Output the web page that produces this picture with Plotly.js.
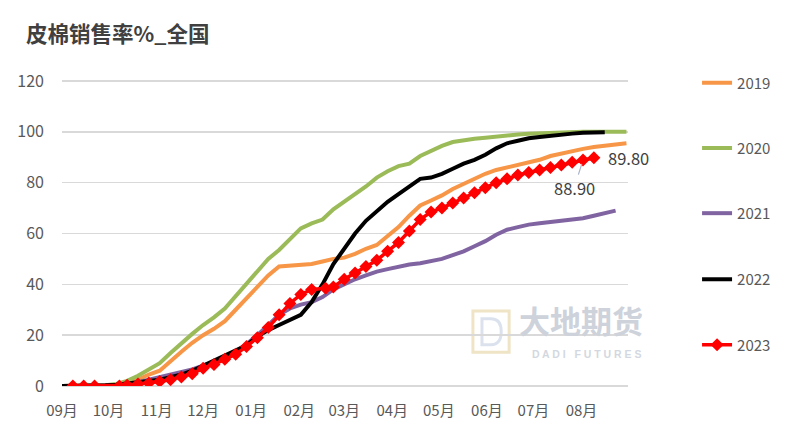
<!DOCTYPE html>
<html>
<head>
<meta charset="utf-8">
<script src="https://cdn.plot.ly/plotly-3.0.1.min.js"></script>
<style>
html,body{margin:0;padding:0;background:#fff;}
#chart{width:789px;height:424px;}
</style>
</head>
<body>
<div id="chart"></div>
<script>
// Weekly dates (season Sep -> Aug) used by the 2019-2022 lines
const weeks = [
 "2023-09-01","2023-09-08","2023-09-15","2023-09-22","2023-09-29","2023-10-06","2023-10-13","2023-10-20","2023-10-27",
 "2023-11-03","2023-11-10","2023-11-17","2023-11-24","2023-12-01","2023-12-08","2023-12-15","2023-12-22","2023-12-29",
 "2024-01-05","2024-01-12","2024-01-19","2024-01-26","2024-02-02","2024-02-09","2024-02-16","2024-02-23","2024-03-01",
 "2024-03-08","2024-03-15","2024-03-22","2024-03-29","2024-04-05","2024-04-12","2024-04-19","2024-04-26","2024-05-03",
 "2024-05-10","2024-05-17","2024-05-24","2024-05-31","2024-06-07","2024-06-14","2024-06-21","2024-06-28","2024-07-05",
 "2024-07-12","2024-07-19","2024-07-26","2024-08-02","2024-08-09","2024-08-16","2024-08-23","2024-08-30"
];
// Report dates of the 2023 season
const weeks2023 = [
 "2023-09-08","2023-09-15","2023-09-22","2023-10-08","2023-10-13","2023-10-20","2023-10-27","2023-11-03","2023-11-10",
 "2023-11-17","2023-11-24","2023-12-01","2023-12-08","2023-12-15","2023-12-22","2023-12-29","2024-01-05","2024-01-12",
 "2024-01-19","2024-01-26","2024-02-02","2024-02-09","2024-02-18","2024-02-23","2024-03-01","2024-03-08","2024-03-15",
 "2024-03-22","2024-03-29","2024-04-05","2024-04-12","2024-04-19","2024-04-26","2024-05-03","2024-05-10","2024-05-17",
 "2024-05-24","2024-05-31","2024-06-07","2024-06-14","2024-06-21","2024-06-28","2024-07-05","2024-07-12","2024-07-19",
 "2024-07-26","2024-08-02","2024-08-09"
];
const s2019 = [0,0,0,0,0.2,0.5,1.2,2.5,4.5,6,10,13.5,17,20,22.5,25.5,30,34.5,39,43.5,47,47.3,47.6,48,49,50,50.5,52,54,55.5,59,62.5,67,71,73,75,77.5,79.5,81.5,83.5,85,86,87,88,89,90.5,91.5,92.5,93.3,94,94.5,95,95.5];
const s2020 = [0,0,0,0,0.3,0.8,2,4,6.5,9,13,17,20.5,24,27,30.5,35.5,40.5,45.5,50,53.5,57.5,62,64,65.5,69.5,72.5,75.5,78.5,82,84.5,86.5,87.5,90.5,92.5,94.5,96,96.8,97.3,97.7,98.2,98.6,99,99.3,99.5,99.7,99.8,99.9,100,100,100,100,100];
const s2021 = [0,0,0,0,0.2,0.5,1,1.5,2.5,3.5,4.5,5.5,6.5,8,9.5,11,13.5,16.5,20,24,28,30.5,32,33,35,38,40,42,43.5,45,46,47,47.8,48.3,49,50,51.5,53,55,57,59.5,61.5,62.5,63.5,64,64.5,65,65.5,66,67,68,69,null];
const s2022 = [0,0,0,0,0.3,0.5,1,1.5,2,2.5,3.5,4.5,6,8,10,12,14,16,19.5,22,24,26,28,33,40,48,54,60,65,69,72.5,75.5,78.5,81.5,82,83.5,85.5,87.5,89,91,93.5,95.5,96.5,97.5,98,98.5,99,99.3,99.6,99.7,99.8,null,null];
const s2023 = [0,0,0,0,0.3,0.8,1.2,1.8,2.5,3.5,4.8,7,8.5,10.5,12.5,15.5,19,23,28,32.5,36,38,38.5,39,42,44.5,47,49.5,53,56.5,61,65.5,68.5,70,72,74,76,78,80,81.5,83,84,85,86,87,88,88.9,89.8];
const seriesNames = ["2019","2020","2021","2022","2023"];
const tickLabelsNote = "%m月";

const colors = ["#F79646","#9BBB59","#8064A2","#000000","#FF0000"];
const legendIds = ["legend","legend2","legend3","legend4","legend5"];
const lineData = [s2019,s2020,s2021,s2022];
const traces = lineData.map((ys,i)=>({
  type:"scatter", mode:"lines", x:weeks, y:ys, name:seriesNames[i],
  line:{color:colors[i], width:4}, legend:legendIds[i], connectgaps:false
}));
traces.push({
  type:"scatter", mode:"lines+markers", x:weeks2023, y:s2023, name:seriesNames[4],
  line:{color:colors[4], width:3.5}, marker:{symbol:"diamond", size:10, color:colors[4]},
  legend:legendIds[4]
});

const n = s2023.length;
const legendY = [0.99, 0.777, 0.564, 0.348, 0.134];
const layout = {
  width:789, height:424,
  margin:{l:62, r:161, t:80, b:38},
  paper_bgcolor:"#fff", plot_bgcolor:"#fff",
  font:{family:"'Noto Sans CJK SC', 'Noto Sans', sans-serif", color:"#595959", size:15},
  title:{text:"<b>皮棉销售率%_全国</b>", x:0.033, xanchor:"left", y:0.918, yanchor:"middle",
         font:{family:"'Noto Sans CJK SC', sans-serif", size:21.5, color:"#404040"}},
  xaxis:{type:"date", range:["2023-09-01","2024-08-31"], tickformat:tickLabelsNote,
         dtick:"M1", tick0:"2023-09-01", showgrid:false, zeroline:false, showline:false,
         ticks:"", tickfont:{size:15, color:"#595959"}, ticklabelstandoff:14},
  yaxis:{range:[0,120.4], dtick:20, showgrid:true, gridcolor:"#d9d9d9", gridwidth:1.5,
         zeroline:true, zerolinecolor:"#d9d9d9", zerolinewidth:1.5, showline:false,
         ticks:"", tickfont:{size:16, color:"#595959"}, ticklabelstandoff:17},
  showlegend:true,
  annotations:[
    {x:weeks2023[n-1], y:s2023[n-1], xref:"x", yref:"y", text:s2023[n-1].toFixed(2),
     showarrow:false, xanchor:"left", xshift:12, font:{size:16.5, color:"#404040"}},
    {x:weeks2023[n-2], y:s2023[n-2], xref:"x", yref:"y", text:s2023[n-2].toFixed(2),
     showarrow:true, arrowhead:0, arrowwidth:1.2, arrowcolor:"#a8b4cc", ax:-9, ay:28, standoff:4,
     font:{size:16.5, color:"#404040"}},
    {xref:"paper", yref:"paper", x:0.917, y:0.218, xanchor:"center", yanchor:"middle",
     text:"<b>大地期货</b>", showarrow:false, font:{size:31, color:"#cdd2db"}, borderpad:0},
    {xref:"paper", yref:"paper", x:0.926, y:0.105, xanchor:"center", yanchor:"middle",
     text:"<b>D A D I   F U T U R E S</b>", showarrow:false, borderpad:0,
     font:{size:10.5, color:"#d3d8e0", family:"'Liberation Sans', sans-serif"}}
  ],
  shapes:[
    {type:"rect", xref:"paper", yref:"paper", x0:0.726, x1:0.79, y0:0.11, y1:0.245,
     line:{color:"#f0e4c6", width:3}, fillcolor:"rgba(0,0,0,0)", layer:"below"},
    {type:"path", xref:"paper", yref:"paper",
     path:"M 0.742 0.22 L 0.758 0.22 Q 0.776 0.22 0.776 0.178 Q 0.776 0.135 0.758 0.135 L 0.742 0.135 Z",
     line:{color:"#dbe2ee", width:3}, fillcolor:"rgba(0,0,0,0)", layer:"below"}
  ]
};
legendIds.forEach((id,i)=>{
  layout[id] = {x:1.122, y:legendY[i], xanchor:"left", yanchor:"middle",
                font:{size:15, color:"#595959"}, bgcolor:"rgba(0,0,0,0)"};
});
Plotly.newPlot("chart", traces, layout, {displayModeBar:false, staticPlot:true});
</script>
</body>
</html>
